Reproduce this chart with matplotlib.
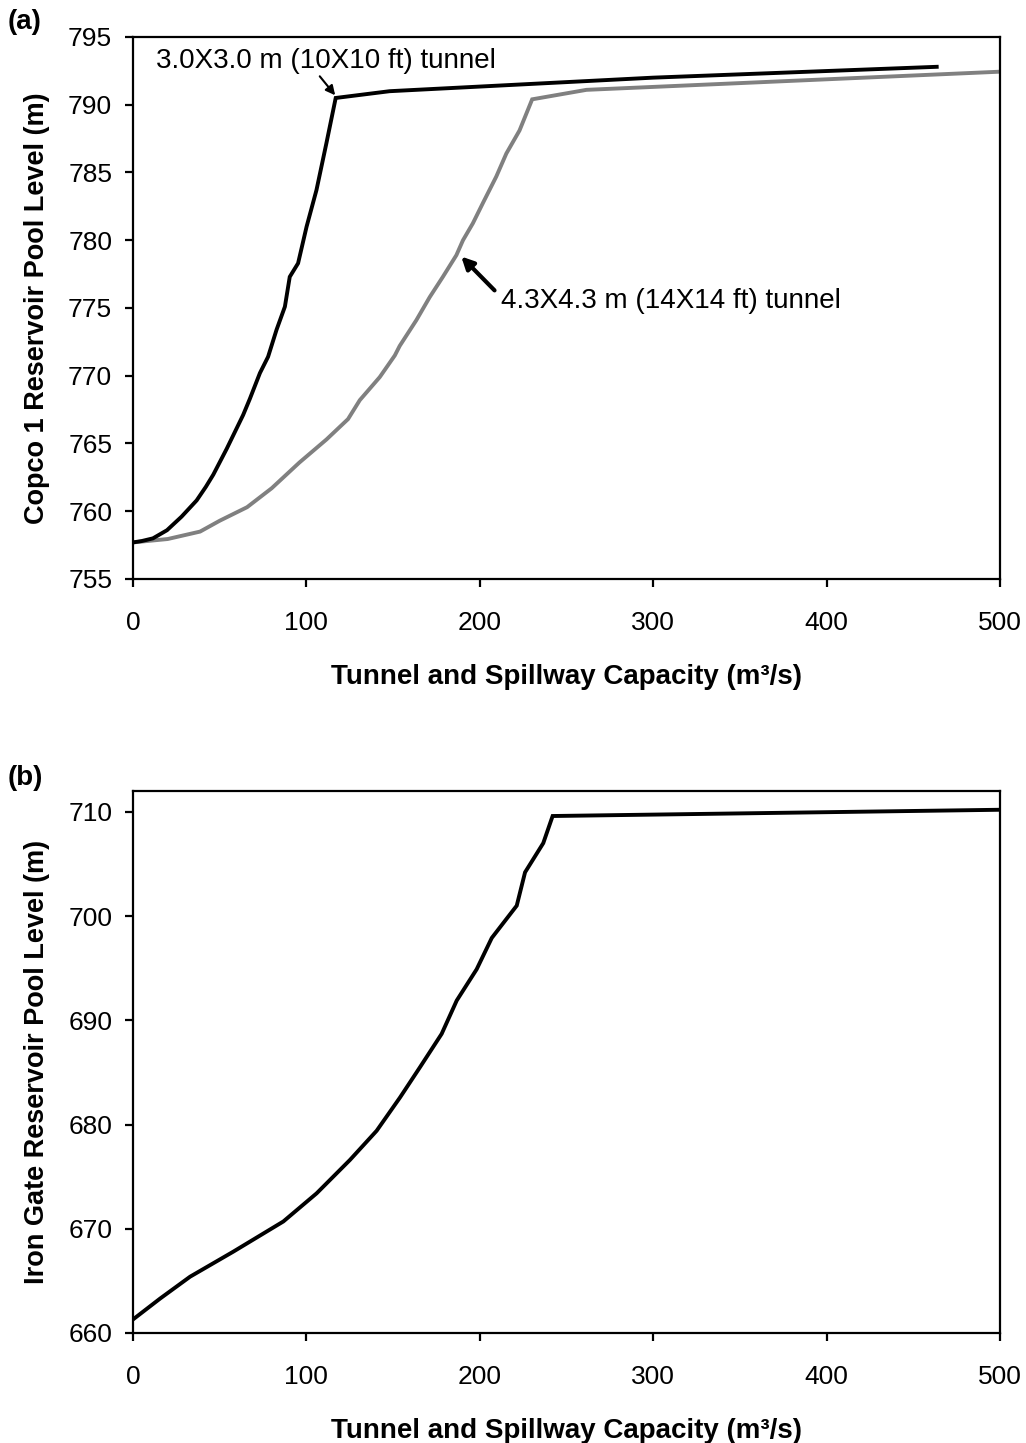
import matplotlib
matplotlib.use("Agg")
import matplotlib.pyplot as plt

plt.rcParams['font.family'] = ['Liberation Sans', 'DejaVu Sans']

# (a) Copco 1: pool level vs. combined tunnel + spillway capacity
copco_10ft_q = [0, 5, 11.5, 19.6, 28, 36.7, 42, 46.3, 54.0, 63.5, 67.4, 73.2, 77.9,
                82.8, 87.6, 90.4, 95.2, 100.1, 105.8, 111.6, 116.9, 148, 300, 463.5]
copco_10ft_level = [757.7, 757.8, 758.0, 758.6, 759.6, 760.8, 761.8, 762.7, 764.6, 767.1,
                    768.3, 770.2, 771.4, 773.4, 775.1, 777.3, 778.3, 781.0, 783.7, 787.2,
                    790.5, 791.0, 792.0, 792.8]

copco_14ft_q = [0, 20, 38.7, 50, 65.8, 80, 96, 111.6, 124, 130.8, 142.3, 151, 153.8,
                163.4, 171.1, 178.7, 186.5, 190.3, 196, 202, 209.5, 215.3, 222.9, 230.2,
                261.5, 500]
copco_14ft_level = [757.7, 757.95, 758.5, 759.3, 760.3, 761.7, 763.6, 765.3, 766.8, 768.2,
                    769.9, 771.5, 772.2, 774.1, 775.8, 777.3, 778.9, 780.0, 781.25, 782.8,
                    784.7, 786.4, 788.1, 790.4, 791.1, 792.44]

# (b) Iron Gate
irongate_q = [0, 15.6, 32.9, 57.8, 86.7, 105.9, 125.1, 140.5, 154.0, 165.5, 178.0, 186.7,
              198.2, 206.9, 221.3, 226.1, 236.6, 242.0, 500]
irongate_level = [661.3, 663.3, 665.4, 667.8, 670.7, 673.4, 676.6, 679.4, 682.6, 685.5,
                  688.7, 691.9, 694.9, 697.9, 701.0, 704.2, 707.0, 709.6, 710.2]

x_ticks = [0, 100, 200, 300, 400, 500]
copco_ticks = [755, 760, 765, 770, 775, 780, 785, 790, 795]
irongate_ticks = [660, 670, 680, 690, 700, 710]

W, H = 1026, 1443
fig = plt.figure(figsize=(W / 100, H / 100), dpi=100)


def style_axes(ax, yticks, ylabel):
    ax.set_xlim(0, 500)
    ax.set_xticks(x_ticks)
    ax.set_yticks(yticks)
    for s in ax.spines.values():
        s.set_linewidth(1.6)
    ax.tick_params(direction='out', length=6, width=1.6, labelsize=19,
                   top=False, right=False)
    ax.tick_params(axis='y', pad=9)
    ax.tick_params(axis='x', pad=17)
    ax.set_xlabel('Tunnel and Spillway Capacity (m³/s)', fontsize=20, fontweight='bold')
    ax.set_ylabel(ylabel, fontsize=19.5, fontweight='bold')
    ax.xaxis.set_label_coords(0.5, -0.157)
    ax.yaxis.set_label_coords(-0.096, 0.5)


ax1 = fig.add_axes([133 / W, 1 - 579 / H, 867 / W, 542 / H])
ax1.plot(copco_14ft_q, copco_14ft_level, color='#808080', lw=2.8, solid_joinstyle='miter')
ax1.plot(copco_10ft_q, copco_10ft_level, color='black', lw=2.8, solid_joinstyle='miter')
ax1.set_ylim(755, 795)
style_axes(ax1, copco_ticks, 'Copco 1 Reservoir Pool Level (m)')

ax1.annotate('', xy=(copco_10ft_q[20] - 0.3, copco_10ft_level[20] + 0.2),
             xytext=(107.7, 792.1),
             arrowprops=dict(arrowstyle='-|>', color='black', lw=1.5,
                             mutation_scale=14, shrinkA=0, shrinkB=0))
ax1.text(13.2, 793.2, '3.0X3.0 m (10X10 ft) tunnel', fontsize=20, va='center', ha='left')

ax1.annotate('', xy=(189.3, 778.8), xytext=(208.5, 776.3),
             arrowprops=dict(arrowstyle='-|>', color='black', lw=3,
                             mutation_scale=18, shrinkA=0, shrinkB=0))
ax1.text(212.4, 775.5, '4.3X4.3 m (14X14 ft) tunnel', fontsize=20, va='center', ha='left')

ax2 = fig.add_axes([133 / W, 1 - 1333 / H, 867 / W, 542 / H])
ax2.plot(irongate_q, irongate_level, color='black', lw=2.8, solid_joinstyle='miter')
ax2.set_ylim(660, 712)
style_axes(ax2, irongate_ticks, 'Iron Gate Reservoir Pool Level (m)')

fig.text(8 / W, 1 - 22 / H, '(a)', fontsize=20, fontweight='bold', va='center', ha='left')
fig.text(8 / W, 1 - 778 / H, '(b)', fontsize=20, fontweight='bold', va='center', ha='left')

fig.savefig('out.png', dpi=100)
